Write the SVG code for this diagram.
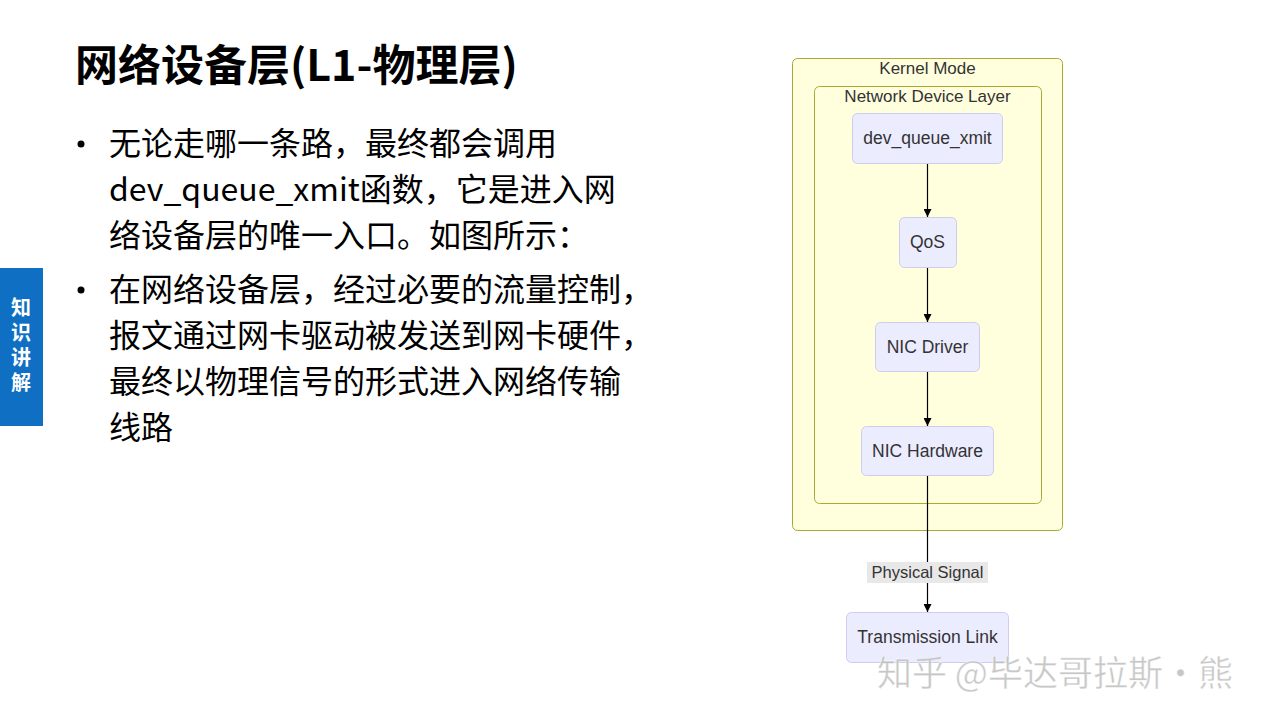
<svg xmlns="http://www.w3.org/2000/svg" width="1280" height="720" viewBox="0 0 1280 720">
<defs>
<style>
.cjk{font-family:"Noto Sans CJK SC","Microsoft YaHei",sans-serif;fill:#000}
.title{font-size:43px;font-weight:bold}
.body{font-size:32px}
.cluster{fill:#ffffde;stroke:#aaaa33;stroke-width:1}
.clabel{font-family:"Liberation Sans",Arial,sans-serif;font-size:17px;fill:#333;text-anchor:middle}
.node rect{fill:#ececff;stroke:#cdcdf0;stroke-width:1}
.node text{font-family:"Liberation Sans",Arial,sans-serif;font-size:17.5px;fill:#333;text-anchor:middle}
.edge{stroke:#000;stroke-width:1.2;fill:none;marker-end:url(#arrow)}
.elabel{font-family:"Liberation Sans",Arial,sans-serif;font-size:16.5px;fill:#333;text-anchor:middle}
</style>
<marker id="arrow" viewBox="0 0 10 10" refX="10" refY="5" markerWidth="8" markerHeight="8" markerUnits="userSpaceOnUse" orient="auto">
<path d="M0,0 L10,5 L0,10 z" fill="#000"/>
</marker>
</defs>
<rect width="1280" height="720" fill="#fff"/>

<g id="title">
<text class="cjk title" x="75" y="81">网络设备层(L1-物理层)</text>
</g>

<g id="bullets">
<circle cx="81" cy="144" r="3.5" fill="#000"/>
<text class="cjk body" x="109" y="155">无论走哪一条路，最终都会调用</text>
<text class="cjk body" x="109" y="201">dev_queue_xmit函数，它是进入网</text>
<text class="cjk body" x="109" y="247">络设备层的唯一入口。如图所示：</text>
<circle cx="81" cy="290" r="3.5" fill="#000"/>
<text class="cjk body" x="109" y="301">在网络设备层，经过必要的流量控制，</text>
<text class="cjk body" x="109" y="347">报文通过网卡驱动被发送到网卡硬件，</text>
<text class="cjk body" x="109" y="393">最终以物理信号的形式进入网络传输</text>
<text class="cjk body" x="109" y="439">线路</text>
</g>

<g id="side-tab">
<rect x="0" y="268" width="43" height="158" fill="#0f6fc3"/>
<text x="21" y="297" writing-mode="vertical-rl" letter-spacing="5" font-family="'Noto Sans CJK SC',sans-serif" font-size="20" font-weight="bold" fill="#fff">知识讲解</text>
</g>

<g id="kernel-mode">
<rect class="cluster" x="792.5" y="58.5" width="270" height="472" rx="5"/>
<text class="clabel" x="927.5" y="74">Kernel Mode</text>
</g>
<g id="network-device-layer">
<rect class="cluster" x="814.5" y="86.5" width="227" height="417" rx="5"/>
<text class="clabel" x="927.5" y="102">Network Device Layer</text>
</g>

<g id="connectors">
<line class="edge" x1="927.5" y1="163" x2="927.5" y2="217"/>
<line class="edge" x1="927.5" y1="267" x2="927.5" y2="322"/>
<line class="edge" x1="927.5" y1="371" x2="927.5" y2="426"/>
<line class="edge" x1="927.5" y1="475" x2="927.5" y2="612"/>
<rect x="867" y="562" width="121" height="21" fill="#e8e8e8"/>
<text class="elabel" x="927.5" y="578">Physical Signal</text>
</g>

<g id="dev_queue_xmit" class="node">
<rect x="852.5" y="113.5" width="150" height="50" rx="5"/>
<text x="927.5" y="144">dev_queue_xmit</text>
</g>
<g id="qos" class="node">
<rect x="899.5" y="217.5" width="57" height="50" rx="5"/>
<text x="927.5" y="248">QoS</text>
</g>
<g id="nic-driver" class="node">
<rect x="875.5" y="322.5" width="104" height="49" rx="5"/>
<text x="927.5" y="353">NIC Driver</text>
</g>
<g id="nic-hardware" class="node">
<rect x="861.5" y="426.5" width="132" height="49" rx="5"/>
<text x="927.5" y="457">NIC Hardware</text>
</g>
<g id="transmission-link" class="node">
<rect x="846.5" y="612.5" width="162" height="50" rx="5"/>
<text x="927.5" y="643">Transmission Link</text>
</g>

<g id="watermark">
<text x="877" y="686" font-family="'Noto Sans CJK SC',sans-serif" font-size="35" fill="#bdbdbd" fill-opacity="0.85" stroke="#ffffff" stroke-opacity="0.6" stroke-width="0.8">知乎 @毕达哥拉斯·熊</text>
</g>
</svg>
